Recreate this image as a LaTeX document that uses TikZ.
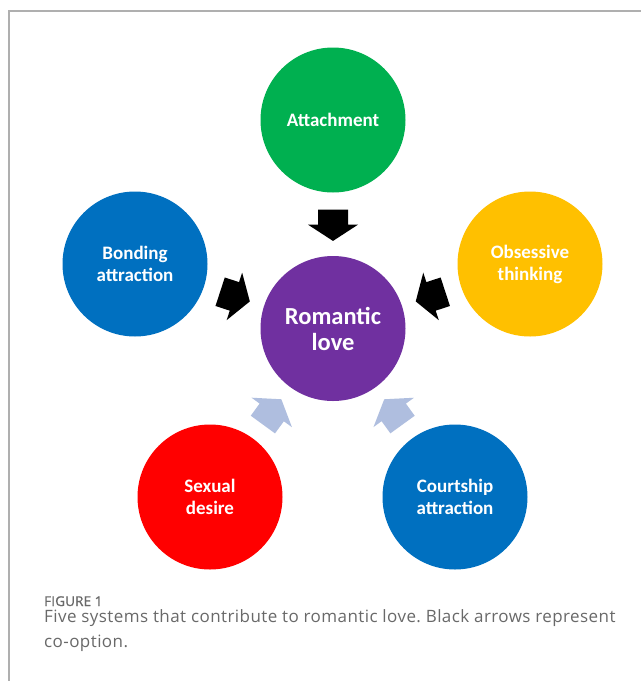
\documentclass[tikz,border=0pt]{standalone}
\usepackage{fontspec}
\setmainfont{Carlito}
\newfontfamily\capfontbold[FakeBold=1.2,LetterSpace=1]{Open Sans}
\newfontfamily\capfontsp[LetterSpace=2.5]{Open Sans}
\usetikzlibrary{calc}
\definecolor{cgreen}{RGB}{0,176,80}
\definecolor{cblue}{RGB}{0,112,192}
\definecolor{cyellow}{RGB}{255,192,0}
\definecolor{cpurple}{RGB}{112,48,160}
\definecolor{cred}{RGB}{255,0,0}
\definecolor{clight}{RGB}{175,190,223}
\definecolor{capgray}{RGB}{105,105,105}
\definecolor{framegray}{RGB}{175,175,175}
\tikzset{
  sys/.style={circle, minimum size=145pt, inner sep=0pt, text=white,
    font=\bfseries\fontsize{19}{22}\selectfont, align=center},
  captext/.style={anchor=base west, inner sep=0pt, text=capgray}
}
\newcommand\blockarr[3]{%
  \coordinate (T) at ($(#2)!0.43!(#3)$);
  \coordinate (P) at ($(#2)!0.58!(#3)$);
  \coordinate (S) at ($(T)!15pt!(P)$);
  \fill[#1] ($(T)!15pt!90:(P)$) -- ($(S)!15pt!90:(P)$) -- ($(S)!25pt!90:(P)$) -- (P)
    -- ($(S)!25pt!-90:(P)$) -- ($(S)!15pt!-90:(P)$) -- ($(T)!15pt!-90:(P)$) -- cycle;
}
\frenchspacing
\begin{document}
\frenchspacing
\begin{tikzpicture}[x=1pt,y=-1pt]
\useasboundingbox (0,0) rectangle (641,681);
\fill[white] (0,0) rectangle (641,681);
\draw[framegray, line width=1.2pt] (9,681) -- (9,11) -- (641,11);

\node[sys, fill=cgreen] (att) at (333,120) {Attachment};
\node[sys, fill=cblue] (bond) at (135,264) {Bonding\\attraction};
\node[sys, fill=cyellow] (obs) at (530,264) {Obsessive\\thinking};
\node[sys, fill=cpurple, font=\bfseries\fontsize{24.5}{26}\selectfont] (rom) at (333,328.5) {Romantic\\love};
\node[sys, fill=cred] (sex) at (210,497) {Sexual\\desire};
\node[sys, fill=cblue] (court) at (455,497) {Courtship\\attraction};

\blockarr{black}{att}{rom}
\blockarr{black}{bond}{rom}
\blockarr{black}{obs}{rom}
\blockarr{clight}{sex}{rom}
\blockarr{clight}{court}{rom}

\node[captext, font=\capfontbold\fontsize{13.5}{16}\selectfont] (figlabel) at (44,606) {FIGURE 1};
\node[captext, font=\capfontsp\fontsize{17}{20}\selectfont] (cap1) at (44,622) {Five systems that contribute to romantic love. Black arrows represent};
\node[captext, font=\capfontsp\fontsize{17}{20}\selectfont] (cap2) at (44,647) {co-option.};
\end{tikzpicture}
\end{document}
